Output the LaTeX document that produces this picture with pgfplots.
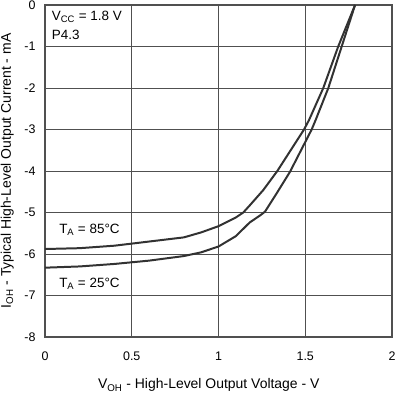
\documentclass[border=0pt]{standalone}
\usepackage{fontspec}
\setmainfont{Liberation Sans}
\usepackage{pgfplots}
\pgfplotsset{compat=1.18}
\definecolor{cgrid}{RGB}{80,80,80}
\definecolor{ccurve}{RGB}{50,50,50}
\begin{document}
\begin{tikzpicture}
\begin{axis}[
  name=ax,
  scale only axis,
  width=347bp, height=332bp,
  xmin=0, xmax=2, ymin=-8, ymax=0,
  xtick={0,0.5,1,1.5,2},
  ytick={-8,-7,-6,-5,-4,-3,-2,-1,0},
  xticklabels={0,0.5,1,1.5,2},
  yticklabels={-8,-7,-6,-5,-4,-3,-2,-1,0},
  major tick length=0pt,
  grid=major,
  major grid style={cgrid, line width=0.8pt},
  axis line style={cgrid, line width=1.2pt},
  tick label style={font=\fontsize{12.5}{14}\selectfont, black},
  xticklabel style={yshift=-11bp},
  yticklabel style={xshift=-6bp},
  xlabel={V\textsubscript{OH} - High-Level Output Voltage - V},
  ylabel={I\textsubscript{OH} - Typical High-Level Output Current - mA},
  label style={font=\fontsize{14}{16}\selectfont},
  xlabel style={at={(axis description cs:0.472,-0.1566)}, anchor=base},
  ylabel style={at={(axis description cs:-0.098,0.5)}, anchor=base},
  clip=false,
]
\addplot[ccurve, line width=2pt, sharp plot] coordinates {
(0,-5.88) (0.2,-5.86) (0.4,-5.80) (0.6,-5.70) (0.8,-5.60) (0.9,-5.48) (1.0,-5.33) (1.1,-5.12) (1.143,-5.0) (1.182,-4.82) (1.258,-4.46) (1.339,-4.0) (1.493,-3.0) (1.522,-2.77) (1.604,-2.0) (1.69,-1.0) (1.787,0)
};
\addplot[ccurve, line width=2pt, sharp plot] coordinates {
(0,-6.33) (0.2,-6.30) (0.4,-6.24) (0.6,-6.16) (0.8,-6.05) (0.9,-5.96) (1.0,-5.82) (1.1,-5.57) (1.18,-5.24) (1.24,-5.07) (1.268,-4.98) (1.335,-4.54) (1.412,-4.02) (1.537,-3.0) (1.56,-2.77) (1.633,-2.0) (1.71,-1.0) (1.787,0)
};
\node[anchor=base west, inner sep=0pt, font=\fontsize{13.5}{15}\selectfont] at (axis cs:0.039,-0.38) {V\textsubscript{CC} = 1.8 V};
\node[anchor=base west, inner sep=0pt, font=\fontsize{13.5}{15}\selectfont] at (axis cs:0.039,-0.84) {P4.3};
\node[anchor=base west, inner sep=0pt, font=\fontsize{13.5}{15}\selectfont] at (axis cs:0.081,-5.50) {T\textsubscript{A} = 85°C};
\node[anchor=base west, inner sep=0pt, font=\fontsize{13.5}{15}\selectfont] at (axis cs:0.081,-6.81) {T\textsubscript{A} = 25°C};
\end{axis}
\pgfresetboundingbox
\path[use as bounding box] ([xshift=-45bp,yshift=-56bp]ax.south west) rectangle ([xshift=3bp,yshift=5bp]ax.north east);
\end{tikzpicture}
\end{document}
